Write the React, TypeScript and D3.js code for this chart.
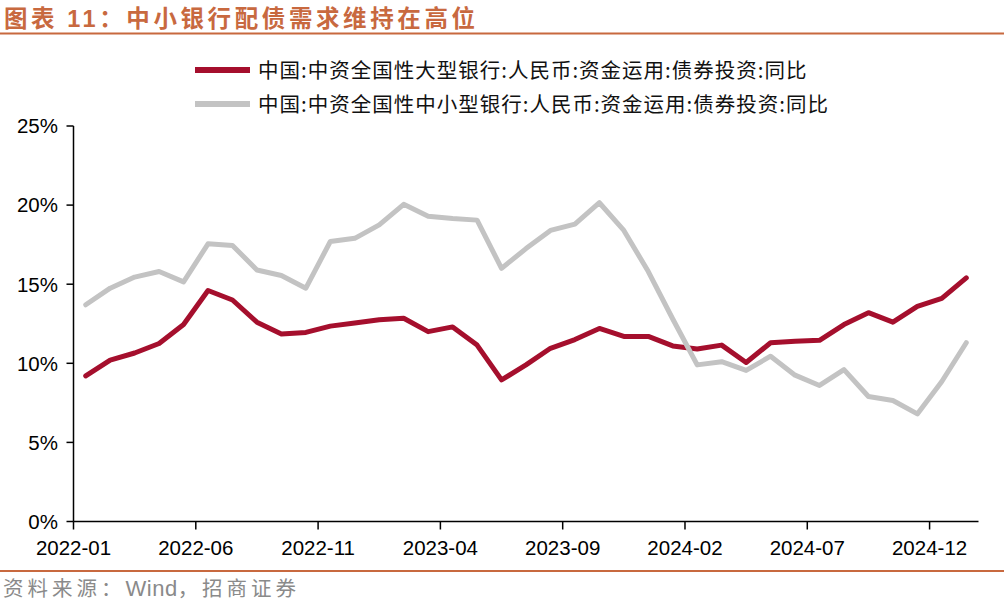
import * as d3 from 'd3';

// months 2022-01 .. 2025-01
const months = [
  '2022-01', '2022-02', '2022-03', '2022-04', '2022-05', '2022-06', '2022-07', '2022-08', '2022-09', '2022-10', '2022-11', '2022-12',
  '2023-01', '2023-02', '2023-03', '2023-04', '2023-05', '2023-06', '2023-07', '2023-08', '2023-09', '2023-10', '2023-11', '2023-12',
  '2024-01', '2024-02', '2024-03', '2024-04', '2024-05', '2024-06', '2024-07', '2024-08', '2024-09', '2024-10', '2024-11', '2024-12',
  '2025-01',
];

const largeBanks = [
  9.2, 10.2, 10.65, 11.25, 12.45, 14.6, 14.0, 12.6, 11.85, 11.95, 12.35, 12.55,
  12.75, 12.85, 12.0, 12.3, 11.15, 8.95, 9.9, 10.95, 11.5, 12.2, 11.7, 11.7,
  11.1, 10.9, 11.15, 10.05, 11.3, 11.4, 11.45, 12.45, 13.2, 12.6, 13.6, 14.1,
  15.4,
];

const smallBanks = [
  13.7, 14.75, 15.45, 15.8, 15.15, 17.55, 17.45, 15.9, 15.55, 14.75, 17.7, 17.9,
  18.75, 20.05, 19.3, 19.15, 19.05, 16.0, 17.25, 18.4, 18.8, 20.15, 18.4, 15.8,
  12.8, 9.9, 10.1, 9.55, 10.45, 9.25, 8.6, 9.6, 7.9, 7.65, 6.8, 8.85,
  11.3,
];

const yTicks = [0, 5, 10, 15, 20, 25];
const xTickLabels = ['2022-01', '2022-06', '2022-11', '2023-04', '2023-09', '2024-02', '2024-07', '2024-12'];

const seriesNames = [
  '中国:中资全国性大型银行:人民币:资金运用:债券投资:同比',
  '中国:中资全国性中小型银行:人民币:资金运用:债券投资:同比',
];

const RED = '#A50F2D';
const GREY = '#C3C3C3';
const BRAND = '#C8693F';
const LATIN = '"Liberation Sans", Arial, sans-serif';
const CJK = '"Noto Sans CJK SC", "Liberation Sans", sans-serif';

export default function App() {
  const width = 1006;
  const height = 605;
  const plot = { left: 73.5, right: 978.5, top: 126, bottom: 521.5 };

  const x = d3.scaleBand<string>()
    .domain(months)
    .range([plot.left, plot.right])
    .padding(0);

  const y = d3.scaleLinear()
    .domain([0, 25])
    .range([plot.bottom, plot.top]);

  const cx = (m: string) => (x(m) || 0) + x.bandwidth() / 2;

  const line = d3.line<number>()
    .x((_, i) => cx(months[i]))
    .y(d => y(d));

  return (
    <svg width={width} height={height} style={{ position: 'absolute', left: 0, top: 0, background: '#fff' }}>
      {/* Title */}
      <text x={4} y={27} fill={BRAND} fontFamily={CJK} fontSize={23.5} fontWeight={700} letterSpacing={3.6}>
        图表 <tspan fontFamily={LATIN}>11</tspan>：中小银行配债需求维持在高位
      </text>
      <line x1={0} x2={1004} y1={33.5} y2={33.5} stroke={BRAND} strokeWidth={2} />

      {/* Legend */}
      {seriesNames.map((name, i) => (
        <g key={name} transform={`translate(0, ${70 + i * 34})`}>
          <line x1={195} x2={250} y1={0} y2={0} stroke={i === 0 ? RED : GREY} strokeWidth={6} />
          <text x={258} y={7.5} fontFamily={CJK} fontSize={20.5} fill="#111" letterSpacing={1}>{name}</text>
        </g>
      ))}

      {/* Y axis */}
      <line x1={plot.left} x2={plot.left} y1={plot.top} y2={plot.bottom} stroke="#000" strokeWidth={1.5} />
      {yTicks.map(t => (
        <g key={t}>
          <line x1={plot.left - 7} x2={plot.left} y1={y(t)} y2={y(t)} stroke="#000" strokeWidth={1.5} />
          <text x={58} y={y(t)} dy="0.36em" textAnchor="end" fontFamily={LATIN} fontSize={20.5} fill="#000">
            {t}%
          </text>
        </g>
      ))}

      {/* X axis */}
      <line x1={plot.left} x2={plot.right} y1={plot.bottom} y2={plot.bottom} stroke="#000" strokeWidth={1.5} />
      {xTickLabels.map(m => (
        <g key={m}>
          <line x1={x(m)} x2={x(m)} y1={plot.bottom} y2={plot.bottom + 8} stroke="#000" strokeWidth={1.5} />
          <text x={x(m)} y={555} textAnchor="middle" fontFamily={LATIN} fontSize={20.5} fill="#000">
            {m}
          </text>
        </g>
      ))}

      {/* Series */}
      <path d={line(largeBanks) || ''} fill="none" stroke={RED} strokeWidth={5} strokeLinejoin="round" strokeLinecap="round" />
      <path d={line(smallBanks) || ''} fill="none" stroke={GREY} strokeWidth={5} strokeLinejoin="round" strokeLinecap="round" />

      {/* Footer */}
      <line x1={0} x2={1004} y1={571} y2={571} stroke={BRAND} strokeWidth={2} />
      <text x={3} y={596} fontFamily={CJK} fontSize={20.5} fill="#8A8A8A" letterSpacing={4}>
        资料来源：<tspan fontFamily={LATIN} fontSize={22} letterSpacing={0.5}>Wind</tspan>，招商证券
      </text>
    </svg>
  );
}
